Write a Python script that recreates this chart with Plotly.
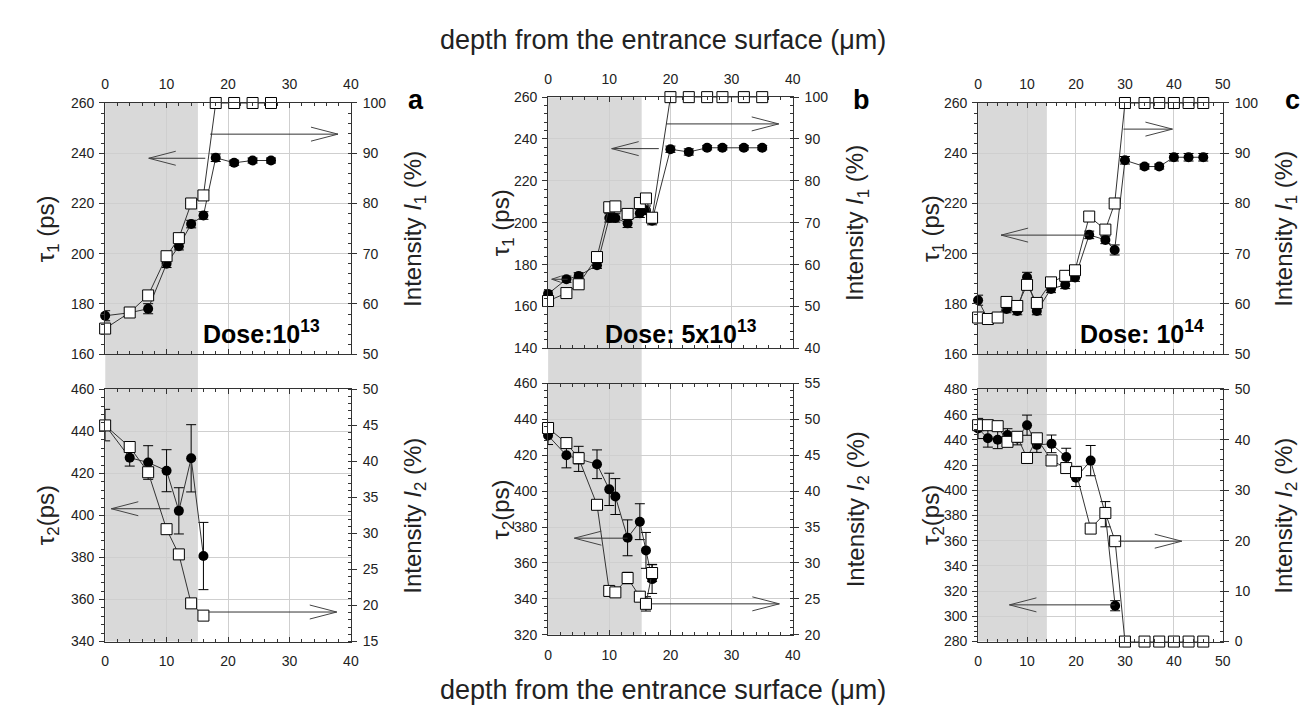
import plotly.graph_objects as go

# ---------------- data ----------------
# panel a, dose 1e13
a_top_x = [0, 4, 7, 10, 12, 14, 16, 18, 21, 24, 27]
a_top_tau1 = [175.3, 176.5, 178.1, 196.0, 203.0, 211.8, 215.2, 238.2, 236.2, 237.1, 237.1]
a_top_tau1_err = [2, 1.5, 2, 1.5, 1.5, 1.5, 1.5, 1.5, 1, 1, 1]
a_top_I1 = [55.1, 58.3, 61.7, 69.5, 73.1, 80.0, 81.6, 100, 100, 100, 100]
a_top_I1_err = [0.5, 0.5, 0.5, 0.5, 0.5, 0.5, 0.5, 0, 0, 0, 0]

a_bot_x = [0, 4, 7, 10, 12, 14, 16]
a_bot_tau2 = [443, 427.5, 425.2, 421.3, 402.2, 427.2, 380.7]
a_bot_tau2_err = [7.5, 4, 8, 10, 11, 16, 16]
a_bot_I2 = [45.0, 42.0, 38.5, 30.6, 27.1, 20.3, 18.6]
a_bot_I2_err = [0.5, 0.5, 0.6, 0.6, 0.6, 0.6, 0.6]

# panel b, dose 5e13
b_top_x = [0, 3, 5, 8, 10, 11, 13, 15, 16, 17, 20, 23, 26, 28.5, 32, 35]
b_top_tau1 = [166, 173, 174.6, 179.7, 202.3, 202.3, 199.7, 204.5, 206, 201,
              235.1, 233.8, 235.8, 235.8, 235.8, 235.8]
b_top_tau1_err = [1.5, 1.5, 1.5, 1.5, 2, 2, 2, 2, 2, 2, 1.5, 1.5, 1, 1, 1, 1]
b_top_I1 = [51.3, 53.2, 55.3, 61.8, 73.7, 73.9, 72.1, 74.7, 75.8, 71.2,
            100, 100, 100, 100, 100, 100]
b_top_I1_err = [0.5] * 10 + [0] * 6

b_bot_x = [0, 3, 5, 8, 10, 11, 13, 15, 16, 17]
b_bot_tau2 = [431, 420, 418, 415, 401, 397, 374, 383, 367, 351]
b_bot_tau2_err = [5, 7, 7, 8, 9, 10, 10, 10, 10, 8]
b_bot_I2 = [48.8, 46.7, 44.6, 38.1, 26.1, 25.9, 27.9, 25.3, 24.3, 28.6]
b_bot_I2_err = [0.5, 0.5, 0.8, 0.6, 0.5, 0.5, 0.8, 0.6, 1.0, 1.2]

# panel c, dose 1e14
c_top_x = [0, 2, 4, 5.8, 8, 10, 12, 14.9, 17.8, 19.8, 22.7, 26, 27.9, 30, 34, 37, 40, 43, 46]
c_top_tau1 = [181.5, 174, 174.5, 178, 177.2, 190.6, 177.2, 186, 187.6, 190.5,
              207.5, 205.5, 201.5, 237.2, 234.7, 234.7, 238.4, 238.4, 238.4]
c_top_tau1_err = [2, 1.5, 1.5, 1.5, 1.5, 2, 1.5, 1.5, 1.5, 1.5, 1.5, 1.5, 2, 1.5, 1, 1, 1.5, 1.5, 1.5]
c_top_I1 = [57.3, 57.0, 57.3, 60.4, 59.6, 63.8, 60.2, 64.3, 65.6, 66.7,
            77.4, 74.8, 80.0, 100, 100, 100, 100, 100, 100]
c_top_I1_err = [0.6] * 13 + [0] * 6

c_bot_x_tau = [0, 2, 4, 6, 8, 10, 12, 15, 18, 20, 23, 26, 28]
c_bot_tau2 = [449, 441.2, 440, 443.8, 441, 451.6, 436, 436.8, 426.3, 410, 423.5, 381, 308.4]
c_bot_tau2_err = [8, 7, 7, 5, 5, 8, 6, 7, 7, 7, 12, 10, 4]
c_bot_x_int = [0, 2, 4, 6, 8, 10, 12, 15, 18, 20, 23, 26, 28, 30, 34, 37, 40, 43, 46]
c_bot_I2 = [42.9, 42.9, 42.7, 39.6, 40.6, 36.4, 40.3, 35.9, 34.4, 33.6,
            22.4, 25.5, 19.9, 0, 0, 0, 0, 0, 0]
c_bot_I2_err = [0.6] * 13 + [0] * 6

dose_labels = ["Dose:10<sup>13</sup>", "Dose: 5x10<sup>13</sup>", "Dose: 10<sup>14</sup>"]
panel_letters = ["a", "b", "c"]
shade_end = [15.1, 15.3, 14.05]

# ---------------- layout helpers ----------------
W, H = 1314, 709
FONT = "Liberation Sans, Arial, sans-serif"
INK = "#222222"
GRID = "#cfcfcf"


def fx(px):
    return px / W


def fy(py):
    return 1 - py / H


cols_px = [(94, 342), (541, 788), (975, 1222)]
rows_px = [[(89, 346), (382, 640)], [(83, 340), (376, 633)], [(89, 346), (382, 640)]]

panels = [
    dict(col=0, row=0, xt=a_top_x, t=a_top_tau1, te=a_top_tau1_err, xi=a_top_x, i=a_top_I1, ie=a_top_I1_err,
         xr=[0, 40], yl=[160, 260], yr=[50, 100], dr=10, mr=2, tl="τ<sub>1</sub> (ps)",
         tr="Intensity <i>I</i><sub>1</sub> (%)"),
    dict(col=0, row=1, xt=a_bot_x, t=a_bot_tau2, te=a_bot_tau2_err, xi=a_bot_x, i=a_bot_I2, ie=a_bot_I2_err,
         xr=[0, 40], yl=[340, 460], yr=[15, 50], dr=5, mr=1, tl="τ<sub>2</sub>(ps)",
         tr="Intensity <i>I</i><sub>2</sub> (%)"),
    dict(col=1, row=0, xt=b_top_x, t=b_top_tau1, te=b_top_tau1_err, xi=b_top_x, i=b_top_I1, ie=b_top_I1_err,
         xr=[0, 40], yl=[140, 260], yr=[40, 100], dr=10, mr=2, tl="τ<sub>1</sub> (ps)",
         tr="Intensity <i>I</i><sub>1</sub> (%)"),
    dict(col=1, row=1, xt=b_bot_x, t=b_bot_tau2, te=b_bot_tau2_err, xi=b_bot_x, i=b_bot_I2, ie=b_bot_I2_err,
         xr=[0, 40], yl=[320, 460], yr=[20, 55], dr=5, mr=1, tl="τ<sub>2</sub>(ps)",
         tr="Intensity <i>I</i><sub>2</sub> (%)"),
    dict(col=2, row=0, xt=c_top_x, t=c_top_tau1, te=c_top_tau1_err, xi=c_top_x, i=c_top_I1, ie=c_top_I1_err,
         xr=[0, 50], yl=[160, 260], yr=[50, 100], dr=10, mr=2, tl="τ<sub>1</sub> (ps)",
         tr="Intensity <i>I</i><sub>1</sub> (%)"),
    dict(col=2, row=1, xt=c_bot_x_tau, t=c_bot_tau2, te=c_bot_tau2_err, xi=c_bot_x_int, i=c_bot_I2,
         ie=c_bot_I2_err, xr=[0, 50], yl=[280, 480], yr=[0, 50], dr=10, mr=2, tl="τ<sub>2</sub>(ps)",
         tr="Intensity <i>I</i><sub>2</sub> (%)"),
]

# arrows: panel index, axis side, y value, x start, x tip, head length px, head half width px
arrows = [
    (0, "L", 238.0, 16.3, 7.1, 27, 7), (0, "R", 93.8, 17.1, 37.9, 27, 7),
    (1, "L", 403.2, 10.5, 1.0, 27, 7), (1, "R", 19.1, 16.8, 37.7, 27, 7),
    (2, "L", 235.4, 18.1, 10.4, 27, 7), (2, "R", 93.6, 19.3, 37.7, 27, 7),
    (2, "L", 173.0, 3.2, 0.6, 9, 3),
    (3, "L", 373.8, 13.0, 4.3, 27, 7), (3, "R", 24.3, 17.0, 37.8, 27, 7),
    (4, "L", 207.4, 22.6, 4.7, 27, 7), (4, "R", 94.8, 29.7, 39.7, 27, 7),
    (5, "L", 309.1, 27.9, 6.4, 27, 7), (5, "R", 19.9, 28.7, 41.6, 27, 7),
]

fig = go.Figure()
layout = dict(width=W, height=H, margin=dict(l=0, r=0, t=0, b=0),
              paper_bgcolor="white", plot_bgcolor="white", showlegend=False,
              font=dict(family=FONT, color=INK))
shapes = []
annotations = []
tickfont = dict(family=FONT, size=14, color=INK)
AXC = "#333333"


def aid(prefix, n):
    return prefix if n == 1 else f"{prefix}{n}"


for p, P in enumerate(panels):
    n = p + 1
    nr = p + 7
    xname, yname, yrname = aid("x", n), aid("y", n), aid("y", nr)
    cx0, cx1 = cols_px[P["col"]]
    ry0, ry1 = rows_px[P["col"]][P["row"]]
    xdom = [fx(cx0), fx(cx1)]
    ydom = [fy(ry1), fy(ry0)]
    layout[aid("xaxis", n)] = dict(
        domain=xdom, range=P["xr"], anchor=yname, side="top" if P["row"] == 0 else "bottom",
        dtick=10, tick0=0, ticks="inside", ticklen=5, tickcolor=AXC, showline=True,
        linecolor=AXC, linewidth=1, mirror="ticks", showgrid=True, gridcolor=GRID,
        zeroline=False, tickfont=tickfont, ticklabelstandoff=7,
        minor=dict(dtick=2, ticks="inside", ticklen=3, tickcolor=AXC, showgrid=False))
    layout[aid("yaxis", n)] = dict(
        domain=ydom, range=P["yl"], anchor=xname, side="left", dtick=20, ticks="outside",
        ticklen=5, tickcolor=AXC, showline=True, linecolor=AXC, linewidth=1,
        showgrid=True, gridcolor=GRID, zeroline=False, tickfont=tickfont, ticklabelstandoff=2,
        minor=dict(dtick=4, ticks="outside", ticklen=3, tickcolor=AXC, showgrid=False))
    layout[aid("yaxis", nr)] = dict(
        range=P["yr"], overlaying=yname, anchor=xname, side="right", dtick=P["dr"],
        ticks="outside", ticklen=5, tickcolor=AXC, showline=True, linecolor=AXC,
        linewidth=1, showgrid=False, zeroline=False, tickfont=tickfont, ticklabelstandoff=3,
        minor=dict(dtick=P["mr"], ticks="inside", ticklen=3, tickcolor=AXC, showgrid=False))

    fig.add_trace(go.Scatter(
        x=P["xt"], y=P["t"], xaxis=xname, yaxis=yname, mode="lines+markers", cliponaxis=False,
        line=dict(color="#333", width=1),
        marker=dict(symbol="circle", size=10, color="black"),
        error_y=dict(type="data", array=P["te"], color="black", thickness=1, width=5)))
    fig.add_trace(go.Scatter(
        x=P["xi"], y=P["i"], xaxis=xname, yaxis=yrname, mode="lines+markers", cliponaxis=False,
        line=dict(color="#333", width=1),
        marker=dict(symbol="square", size=11, color="white", line=dict(color="black", width=1)),
        error_y=dict(type="data", array=P["ie"], color="black", thickness=1, width=5)))

    # axis titles
    lx = {0: 36, 1: 495, 2: 929}[P["col"]]
    rx = {0: 406, 1: 853, 2: 1285}[P["col"]]
    yc = fy((ry0 + ry1) / 2)
    annotations.append(dict(text=P["tl"], x=fx(lx), y=yc, xref="paper", yref="paper",
                            textangle=-90, showarrow=False, xanchor="center", yanchor="middle",
                            font=dict(family=FONT, size=24, color=INK)))
    annotations.append(dict(text=P["tr"], x=fx(rx), y=yc, xref="paper", yref="paper",
                            textangle=-90, showarrow=False, xanchor="center", yanchor="middle",
                            font=dict(family=FONT, size=24, color=INK)))

# shaded region (spans both rows)
for c in range(3):
    top_ax = aid("x", 2 * c + 1)
    shapes.append(dict(type="rect", xref=top_ax, yref="paper", x0=0, x1=shade_end[c],
                       y0=fy(rows_px[c][1][1]), y1=fy(rows_px[c][0][0]),
                       fillcolor="#d9d9d9", line=dict(width=0), layer="below"))

# arrows
for (p, side, yv, xs, xt, hl, hw) in arrows:
    xr = aid("x", p + 1)
    yr = aid("y", p + 1) if side == "L" else aid("y", p + 7)
    shapes.append(dict(type="line", xref=xr, yref=yr, x0=xs, x1=xt, y0=yv, y1=yv,
                       line=dict(color="#333", width=1), layer="above"))
    d = 1 if xt < xs else -1
    shapes.append(dict(type="path", xref=xr, yref=yr, xsizemode="pixel", ysizemode="pixel",
                       xanchor=xt, yanchor=yv,
                       path=f"M {d*hl},{hw} L 0,0 L {d*hl},{-hw}",
                       line=dict(color="#444", width=1), layer="above"))

# panel letters and dose labels
letter_x = [408, 857, 1292]
dose_x = [252, 675, 1140]
for c in range(3):
    annotations.append(dict(text=f"<b>{panel_letters[c]}</b>", x=fx(letter_x[c]), y=fy(86),
                            xref="paper", yref="paper", showarrow=False, xanchor="center",
                            yanchor="middle", font=dict(family=FONT, size=27, color="black")))
    annotations.append(dict(text=f"<b>{dose_labels[c]}</b>", x=fx(dose_x[c]), y=fy(323),
                            xref="paper", yref="paper", showarrow=False, xanchor="center",
                            yanchor="middle", font=dict(family=FONT, size=25, color="black")))

# global titles
for yy in (25, 690):
    annotations.append(dict(text="depth from the entrance surface (μm)", x=fx(657), y=fy(yy),
                            xref="paper", yref="paper", showarrow=False, xanchor="center",
                            yanchor="middle", font=dict(family=FONT, size=27, color=INK)))

layout["shapes"] = shapes
layout["annotations"] = annotations
fig.update_layout(**layout)
fig.write_html("out.html")
